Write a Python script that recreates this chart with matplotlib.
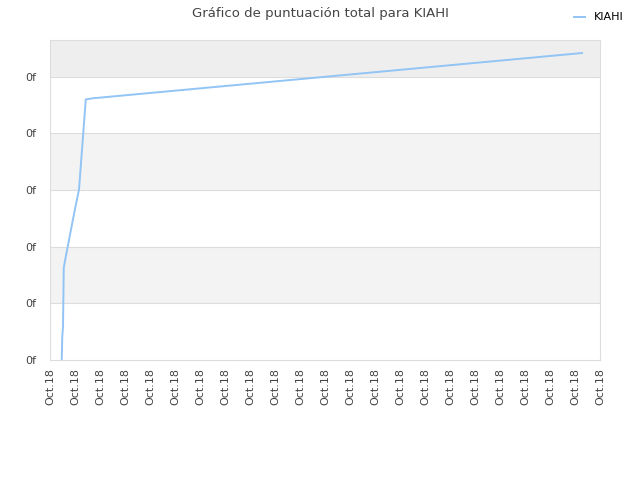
import matplotlib
matplotlib.use("Agg")
import matplotlib.pyplot as plt

title = "Gráfico de puntuación total para KIAHI"
series_name = "KIAHI"
x_vals = [0.47, 0.49, 0.52, 0.55, 0.63, 0.76, 0.97, 1.16, 1.29, 1.43, 1.69, 21.28]
y_vals = [0.0, 0.41, 0.58, 1.63, 1.82, 2.12, 2.60, 3.01, 3.77, 4.60, 4.62, 5.42]
x_ticks = list(range(23))
x_tick_labels = ["Oct.18"] * 23
y_ticks = [0, 1, 2, 3, 4, 5]
y_tick_labels = ["0f"] * 6

fig = plt.figure(figsize=(6.4, 4.8), dpi=100)
ax = fig.add_axes([50/640, 120/480, 550/640, 320/480])
ymax = 5.65
ax.set_xlim(0, 22)
ax.set_ylim(0, ymax)

band_colors = ["#ffffff", "#f3f3f3"]
for i in range(5):
    ax.axhspan(i, i + 1, color=band_colors[i % 2], zorder=0, lw=0)
ax.axhspan(5, ymax, color="#eeeeee", zorder=0, lw=0)
for yt in y_ticks[1:]:
    ax.axhline(yt, color="#dddddd", lw=0.8, zorder=1)

ax.plot(x_vals, y_vals, color="#92c4f5", lw=1.4, zorder=3, label=series_name)

ax.set_xticks(x_ticks)
ax.set_xticklabels(x_tick_labels, rotation=90, fontsize=8, color="#444444")
ax.set_yticks(y_ticks)
ax.set_yticklabels(y_tick_labels, fontsize=8, color="#444444")
ax.tick_params(axis="x", length=0, pad=6)
ax.tick_params(axis="y", length=0, pad=10)
for s in ax.spines.values():
    s.set_color("#dddddd")

fig.suptitle(title, x=0.5, y=0.985, fontsize=9.5, color="#444444")
fig.legend(loc="upper right", bbox_to_anchor=(0.99, 0.995), frameon=False,
           fontsize=8, handlelength=1.0, handletextpad=0.8)

fig.savefig("out.png", dpi=100)
